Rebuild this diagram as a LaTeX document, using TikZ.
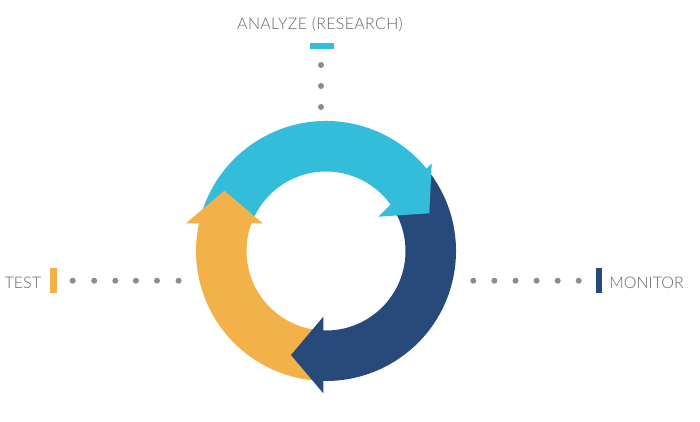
\documentclass[tikz,border=0pt]{standalone}
\usepackage{fontspec}
\setmainfont{Lato}[UprightFont={* Light}]
\definecolor{cyanc}{HTML}{33BDDA}
\definecolor{navyc}{HTML}{284A7A}
\definecolor{orangec}{HTML}{F3B14A}
\definecolor{dotc}{HTML}{8C8C8C}
\definecolor{textc}{HTML}{666666}
\begin{document}
\begin{tikzpicture}[x=1pt,y=1pt,
  graydot/.style={circle,fill=dotc,inner sep=0pt,minimum size=6pt},
  lbl/.style={text=textc,font=\fontsize{16}{19}\selectfont,inner sep=0pt},
  barmark/.style={inner sep=0pt,minimum width=#1,draw=none}]
\useasboundingbox (0,0) rectangle (700,421);
\fill[white] (0,0) rectangle (700,421);
% ring bands
\begin{scope}[shift={(326,170)}]
  \fill[cyanc] (166:130pt) arc[start angle=166,end angle=38,radius=130pt]
     -- (35:79.5pt) arc[start angle=35,end angle=158,radius=79.5pt] -- cycle;
  \fill[navyc] (37:130pt) arc[start angle=37,end angle=-92,radius=130pt]
     -- (-92:79.5pt) arc[start angle=-92,end angle=30,radius=79.5pt] -- cycle;
  \fill[orangec] (267:130pt) arc[start angle=267,end angle=167.56,radius=130pt]
     -- (159.4:79.5pt) arc[start angle=159.4,end angle=267,radius=79.5pt] -- cycle;
\end{scope}
% arrow heads
\fill[cyanc] (431.7,257.7) -- (429.3,207.7) -- (378.3,204.3) -- cycle;
\fill[navyc] (291,66) -- (323.3,104.3) -- (323.3,27.7) -- cycle;
\fill[orangec] (224.3,230.3) -- (186,197.7) -- (262.7,197.7) -- cycle;
% labels
\node[lbl,anchor=base] (analyze) at (320,391) {\addfontfeatures{LetterSpace=2}ANALYZE (RESEARCH)};
\node[lbl,anchor=base west] (test) at (4.5,132.7) {TEST};
\node[lbl,anchor=base west] (monitor) at (609.2,132.7) {MONITOR};
% bars
\node[barmark=24.5pt,fill=cyanc,minimum height=6pt] (abar) at (321.8,375.3) {};
\node[barmark=6.8pt,fill=orangec,minimum height=25pt] (tbar) at (53.6,140.2) {};
\node[barmark=6.8pt,fill=navyc,minimum height=25pt] (mbar) at (598.9,140.2) {};
% dots
\foreach \i/\y in {1/356,2/335,3/314} \node[graydot] (up\i) at (321,\y) {};
\foreach \i/\x in {1/72.7,2/94.2,3/115.3,4/135.9,5/157,6/178.6} \node[graydot] (lt\i) at (\x,140.3) {};
\foreach \i/\x in {1/473.3,2/494.4,3/515.5,4/536.6,5/557.7,6/578.7} \node[graydot] (rt\i) at (\x,140.3) {};
\end{tikzpicture}
\end{document}
